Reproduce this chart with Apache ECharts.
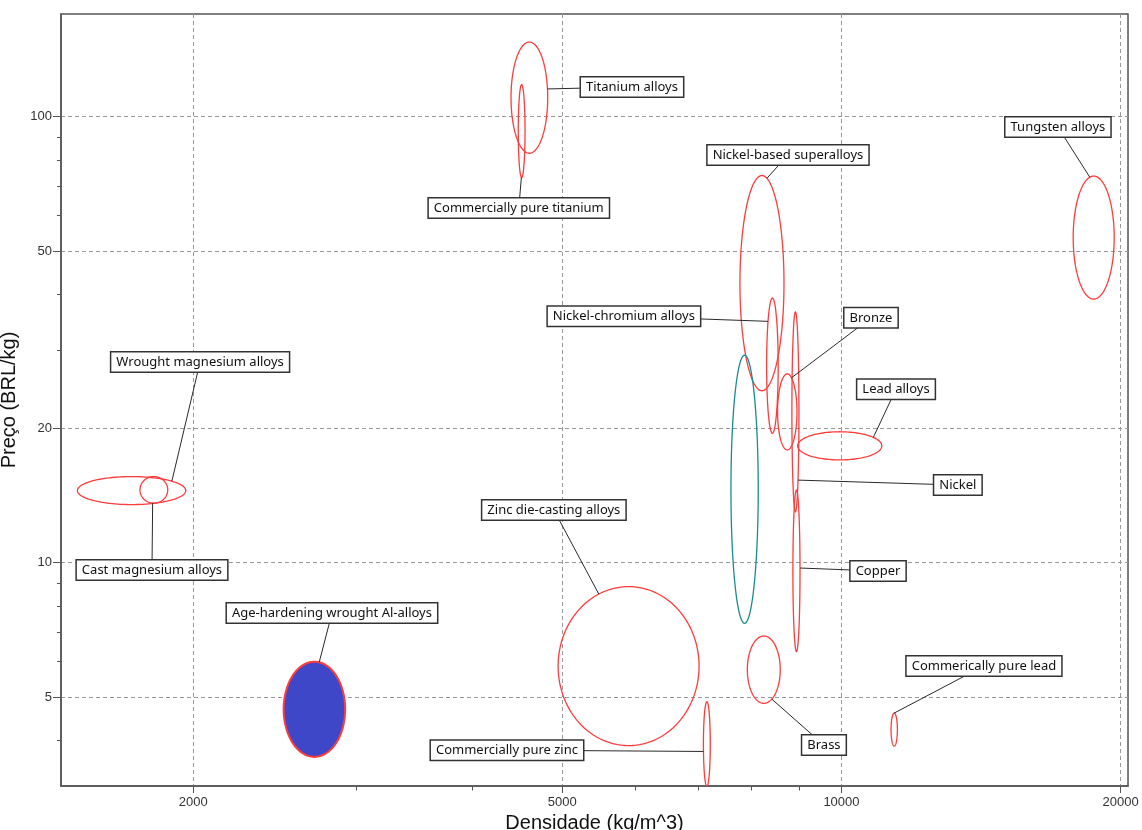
<!DOCTYPE html>
<html>
<head>
<meta charset="utf-8">
<title>Densidade x Preço</title>
<script src="https://cdn.jsdelivr.net/npm/echarts@6/dist/echarts.min.js"></script>
<style>
  html, body { margin: 0; padding: 0; background: #fff; }
  #chart { width: 1142px; height: 830px; }
</style>
</head>
<body>
<div id="chart"></div>
<script>
// Material families: density range (kg/m^3) and price range (BRL/kg)
const materials = [
  'Wrought magnesium alloys',
  'Cast magnesium alloys',
  'Age-hardening wrought Al-alloys',
  'Titanium alloys',
  'Commercially pure titanium',
  'Zinc die-casting alloys',
  'Commercially pure zinc',
  'Nickel-based superalloys',
  '',
  'Nickel-chromium alloys',
  'Bronze',
  'Nickel',
  'Copper',
  'Lead alloys',
  'Brass',
  'Commerically pure lead',
  'Tungsten alloys'
];
const densityMin = [1500, 1752, 2503, 4402, 4482, 4948, 7098, 7772, 7600, 8304, 8533, 8842, 8864, 8969, 7916, 11310, 17778];
const densityMax = [1963, 1877, 2916, 4822, 4558, 7022, 7220, 8670, 8133, 8546, 8954, 8998, 9022, 11054, 8590, 11490, 19684];
const priceMin   = [13.5, 13.6, 3.67, 82.8, 73.0, 3.89, 3.15, 24.3, 7.31, 19.5, 17.9, 13.0, 6.32, 17.0, 4.84, 3.88, 39.0];
const priceMax   = [15.6, 15.6, 6.00, 147, 118, 8.84, 4.88, 73.8, 29.2, 39.2, 26.5, 36.5, 14.55, 19.66, 6.85, 4.60, 73.6];

// Axis ticks
const xMajorTicks = [2000, 5000, 10000, 20000];
const xMinorTicks = [3000, 4000, 6000, 7000, 8000, 9000];
const yMajorTicks = [5, 10, 20, 50, 100];
const yMinorTicks = [4, 6, 7, 8, 9, 30, 40, 60, 70, 80, 90];
const xRange = [1440, 20370];
const yRange = [3.158, 169.9];

// Callout layout: box centre (in data units) and the angle on the ellipse where the leader starts
const calloutDensity = [2034, 1805, 2822, 5944, 4488, 4896, 4358, 8756, null, 5826, 10760, 13350, 10950, 11450, 9574, 14244, 17116];
const calloutPrice   = [28.2, 9.63, 7.71, 116.6, 62.4, 13.13, 3.80, 82.1, null, 35.7, 35.4, 14.93, 9.58, 24.5, 3.90, 5.87, 94.8];
const calloutAngle   = [-42, 95, -81, -9, 95, -115, 170, -77, null, -139, -64, 43, -2, -37, 61, -95, -101];

// Styles
const RED = '#ff3b3b';
const strokeColors = materials.map((_, i) => (i === 8 ? '#1a8c8c' : RED));
const fillColors = materials.map((_, i) => (i === 2 ? '#3e47c8' : null));
const strokeWidths = materials.map((_, i) => (i === 2 ? 2 : 1.3));

const lg = Math.log10;
const seriesData = materials.map((_, i) => [i, lg(densityMin[i]), lg(densityMax[i]), lg(priceMin[i]), lg(priceMax[i])]);

function renderItem(params, api) {
  const i = api.value(0);
  const a = api.coord([api.value(1), api.value(3)]);
  const b = api.coord([api.value(2), api.value(4)]);
  const cx = (a[0] + b[0]) / 2, cy = (a[1] + b[1]) / 2;
  const rx = Math.abs(b[0] - a[0]) / 2, ry = Math.abs(b[1] - a[1]) / 2;
  const pts = [];
  const N = 120;
  for (let k = 0; k < N; k++) {
    const t = (2 * Math.PI * k) / N;
    pts.push([cx + rx * Math.cos(t), cy + ry * Math.sin(t)]);
  }
  const children = [{
    type: 'polygon',
    shape: { points: pts },
    style: { fill: fillColors[i] || 'none', stroke: strokeColors[i], lineWidth: strokeWidths[i] },
    z2: i === 8 ? 3 : 1
  }];
  if (calloutDensity[i] != null) {
    const box = api.coord([lg(calloutDensity[i]), lg(calloutPrice[i])]);
    const t = (calloutAngle[i] * Math.PI) / 180;
    const px = cx + rx * Math.cos(t), py = cy + ry * Math.sin(t);
    children.push({
      type: 'line',
      shape: { x1: px, y1: py, x2: box[0], y2: box[1] },
      style: { stroke: '#2a2a2a', lineWidth: 1 },
      z2: 5
    });
    children.push({
      type: 'text',
      x: box[0], y: box[1],
      style: {
        text: materials[i],
        align: 'center', verticalAlign: 'middle',
        font: '13px "Noto Sans", "DejaVu Sans", sans-serif',
        fill: '#111',
        backgroundColor: '#fff',
        borderColor: '#333', borderWidth: 1.5,
        padding: [3, 5]
      },
      z2: 10
    });
  }
  return { type: 'group', children };
}

const tickLabelStyle = { color: '#333', fontSize: 13, fontFamily: '"Liberation Sans", Arial, sans-serif' };
const titleStyle = { color: '#111', fontSize: 20, fontFamily: '"Liberation Sans", Arial, sans-serif' };
const gridLine = { show: true, lineStyle: { color: '#999', width: 1, type: [4, 3] } };
const fmt = v => String(Math.round(Math.pow(10, v)));

const chart = echarts.init(document.getElementById('chart'), null, { renderer: 'canvas' });
chart.setOption({
  animation: false,
  backgroundColor: '#fff',
  grid: {
    left: 61, top: 14, right: 14, bottom: 44,
    show: true, borderColor: '#555', borderWidth: 1.5,
    containLabel: false, outerBoundsMode: 'none'
  },
  xAxis: [
    {
      type: 'value', position: 'bottom',
      min: lg(xRange[0]), max: lg(xRange[1]),
      axisLine: { show: true, onZero: false, lineStyle: { color: '#555', width: 1.5 } },
      axisTick: { show: true, customValues: xMajorTicks.map(lg), length: 7, lineStyle: { color: '#555' } },
      axisLabel: { customValues: xMajorTicks.map(lg), formatter: fmt, margin: 10, ...tickLabelStyle },
      splitLine: gridLine,
      name: 'Densidade (kg/m^3)', nameLocation: 'middle', nameGap: 24,
      nameTextStyle: titleStyle
    },
    {
      type: 'value', position: 'bottom',
      min: lg(xRange[0]), max: lg(xRange[1]),
      axisLine: { show: false },
      axisTick: { show: true, customValues: xMinorTicks.map(lg), length: 4.5, lineStyle: { color: '#555' } },
      axisLabel: { show: false },
      splitLine: { show: false }
    }
  ],
  yAxis: [
    {
      type: 'value', position: 'left',
      min: lg(yRange[0]), max: lg(yRange[1]),
      axisLine: { show: true, onZero: false, lineStyle: { color: '#555', width: 1.5 } },
      axisTick: { show: true, customValues: yMajorTicks.map(lg), length: 8, lineStyle: { color: '#555' } },
      axisLabel: { customValues: yMajorTicks.map(lg), formatter: fmt, margin: 9, ...tickLabelStyle },
      splitLine: gridLine,
      name: 'Preço (BRL/kg)', nameLocation: 'middle', nameGap: 32,
      nameTextStyle: titleStyle
    },
    {
      type: 'value', position: 'left',
      min: lg(yRange[0]), max: lg(yRange[1]),
      axisLine: { show: false },
      axisTick: { show: true, customValues: yMinorTicks.map(lg), length: 4, lineStyle: { color: '#555' } },
      axisLabel: { show: false },
      splitLine: { show: false }
    }
  ],
  series: [{
    type: 'custom',
    coordinateSystem: 'cartesian2d',
    xAxisIndex: 0, yAxisIndex: 0,
    clip: true,
    silent: true,
    renderItem,
    data: seriesData
  }]
});
</script>
</body>
</html>
